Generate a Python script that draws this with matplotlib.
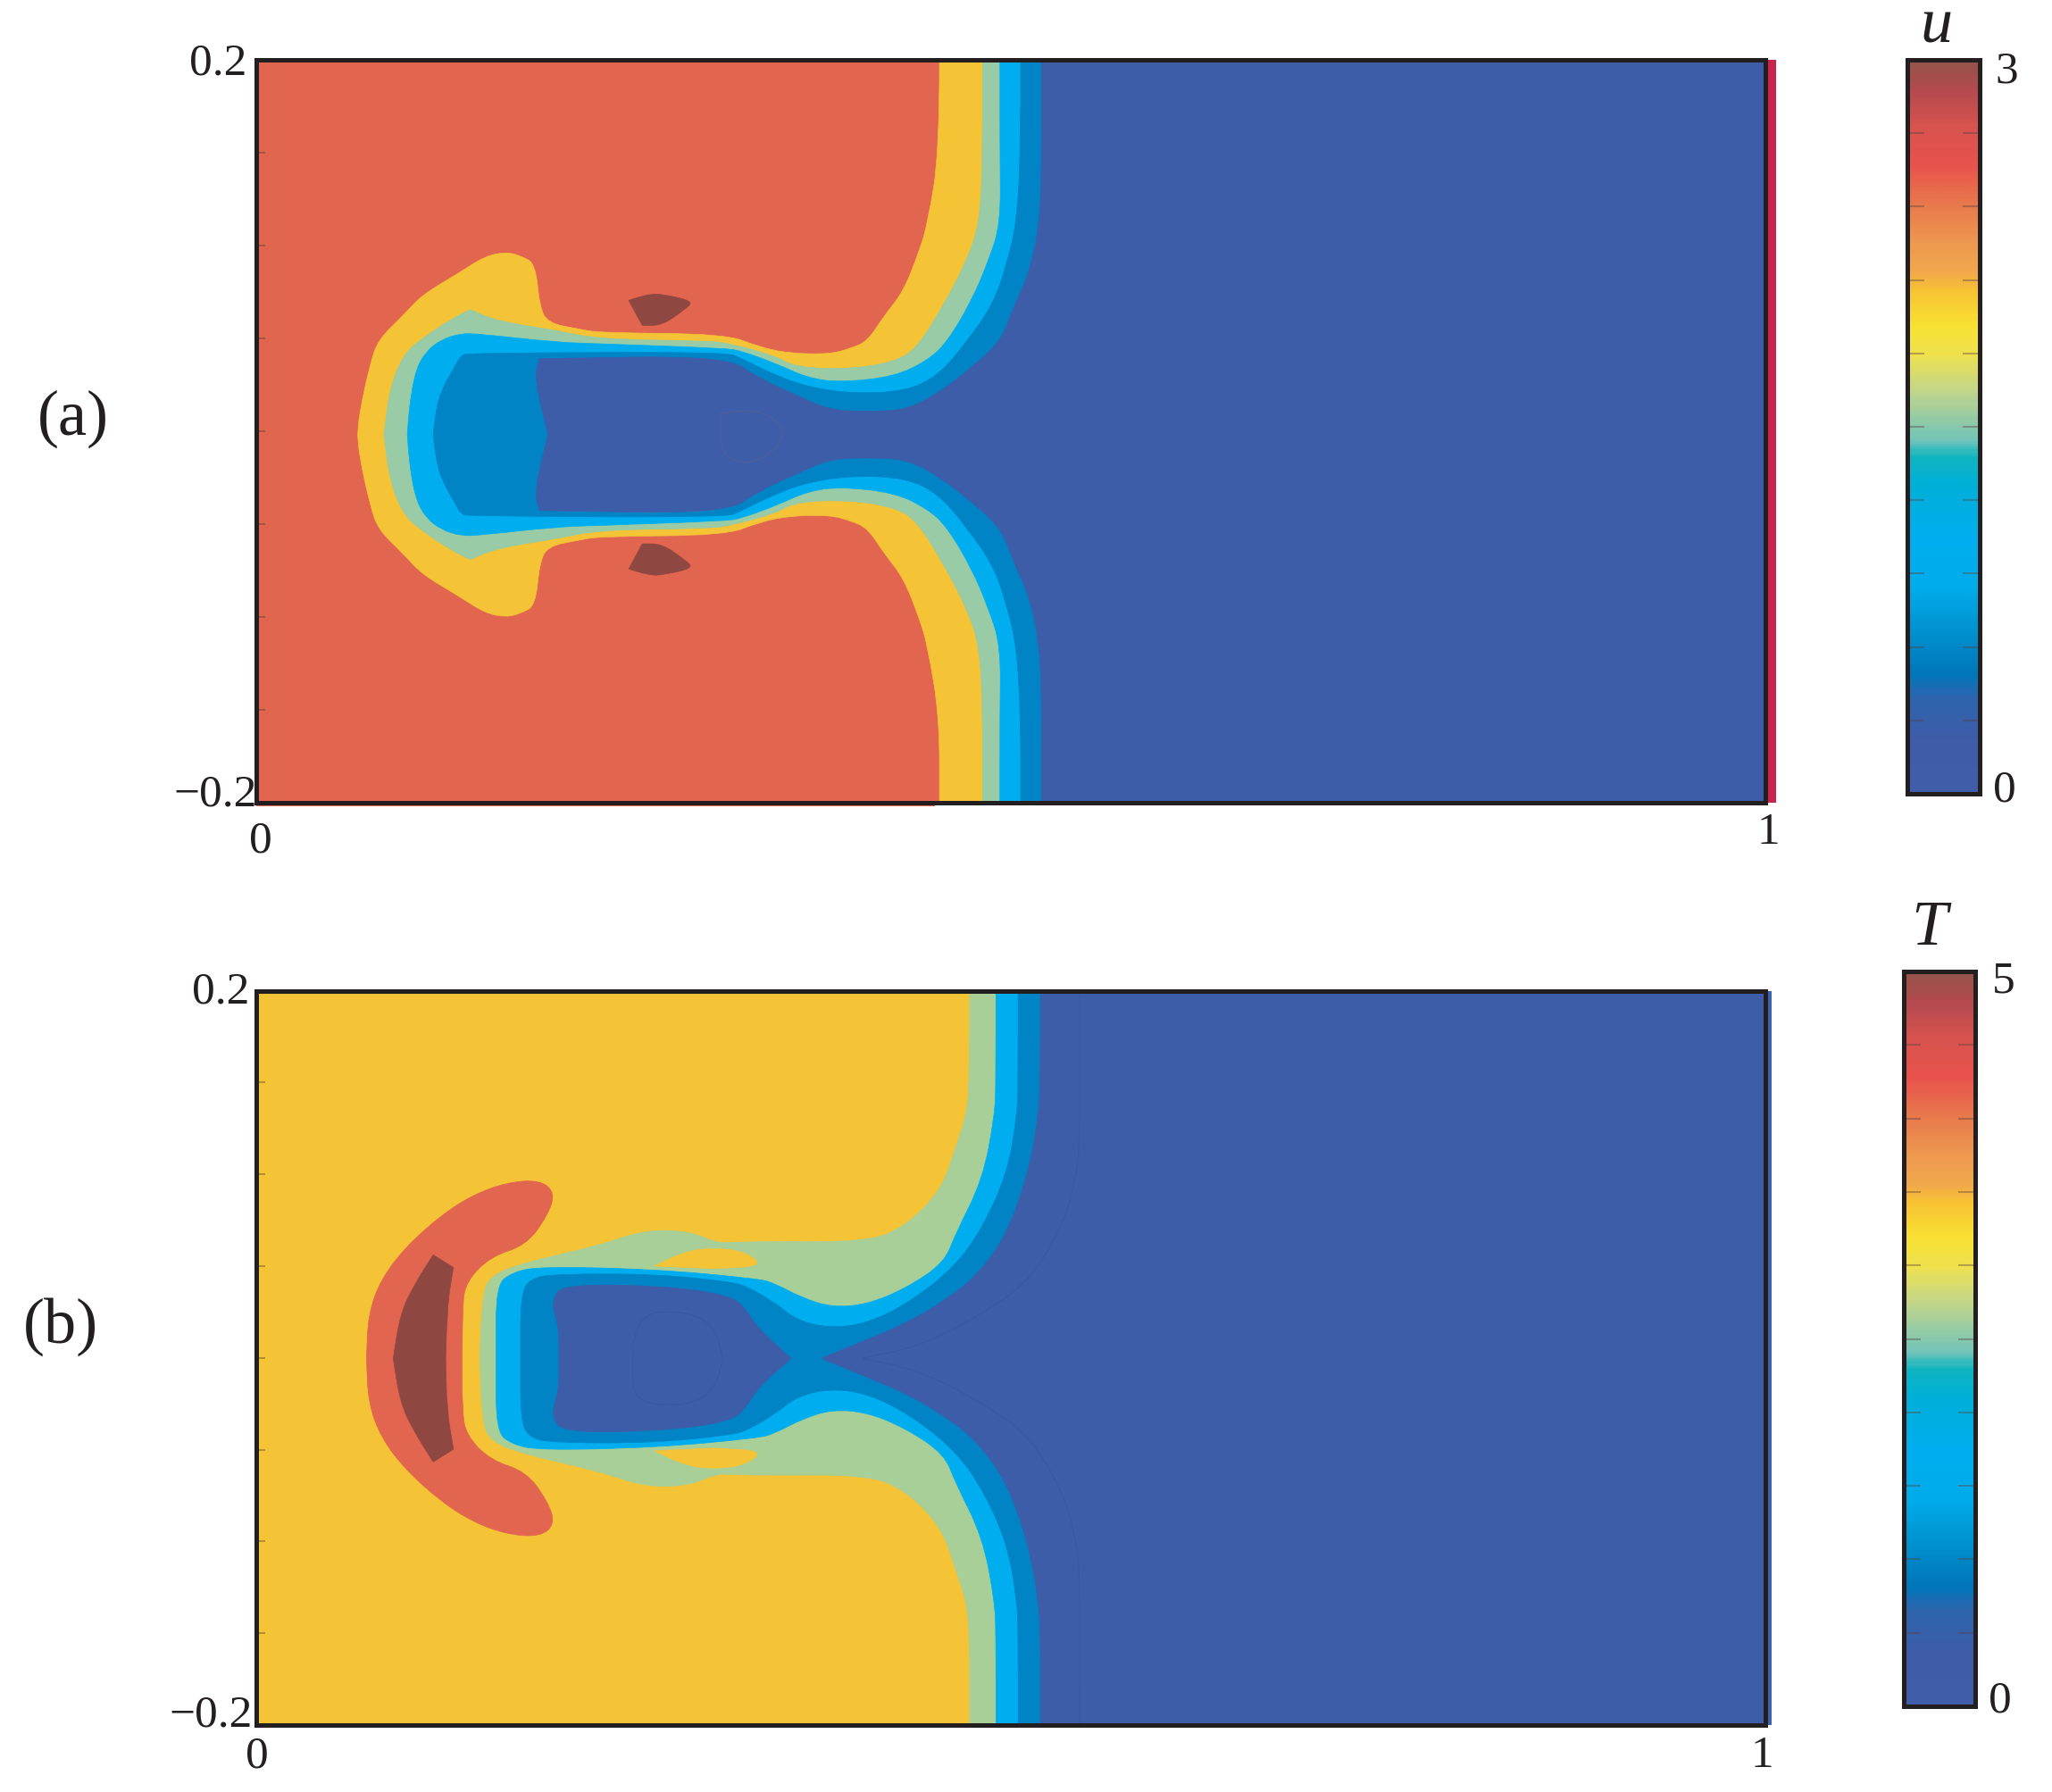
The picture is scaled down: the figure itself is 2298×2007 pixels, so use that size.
import numpy as np
import matplotlib
matplotlib.use('Agg')
import matplotlib.pyplot as plt
from matplotlib.colors import LinearSegmentedColormap
from matplotlib.patches import PathPatch
from matplotlib.path import Path

plt.rcParams['font.family'] = ['Liberation Serif', 'DejaVu Serif']

W, H = 2298, 2007

# colours of the contour bands
c_brown = '#8f4841'
c_red = '#e2654f'
c_yellow = '#f4c336'
c_green_a = '#98cba6'
c_green_b = '#a9cf98'
c_cyan = '#00aeef'
c_mid = '#0084c6'
c_dark = '#3e5da8'
c_ink = '#231f20'

# (a) upper half of each contour, top edge -> centre line
# a point written twice stays a sharp corner
a_centre = -0.0018
a_yellow = [(.4529, .2), (.4529, .15), (.445, .112), (.4398, .0976), (.4289, .0751), (.4163, .0623),
            (.4054, .0487), (.3945, .0447), (.38, .0415), (.3529, .042), (.333, .0455), (.3112, .0524),
            (.2279, .053), (.2134, .0551), (.1935, .0583), (.188, .0671), (.1852, .0904), (.1754, .0944),
            (.1664, .0965), (.1519, .0944), (.1338, .0848), (.1102, .0735), (.0976, .0623), (.0813, .0495),
            (.0758, .0367), (.0685, .0094), (.0675, -.0018)]
a_green = [(.4816, .2), (.4816, .15), (.4796, .112), (.4706, .0912), (.4561, .0687), (.438, .0447),
           (.4235, .0375), (.3945, .0335), (.3583, .0343), (.3438, .0407), (.3148, .0471), (.3004, .0487),
           (.2279, .0495), (.1989, .0543), (.1736, .0575), (.1555, .0607), (.1421, .0655), (.1421, .0655),
           (.1301, .0607), (.112, .0511), (.0976, .0415), (.0885, .0223), (.0849, -.0018)]
a_cyan = [(.4929, .2), (.4929, .15), (.4935, .112), (.4851, .0912), (.4742, .0703), (.4579, .0479),
          (.4452, .0383), (.4235, .0295), (.3873, .0263), (.3656, .0287), (.3438, .0367), (.3221, .0431),
          (.3112, .0447), (.2279, .0471), (.1989, .0479), (.1482, .0524), (.1356, .0527), (.1225, .0492),
          (.1130, .0431), (.1066, .0343), (.103, .0207), (.1012, .0079), (.1004, -.0018)]
a_mid = [(.5067, .2), (.5067, .15), (.5039, .112), (.4978, .0912), (.4887, .0687), (.4706, .0479),
         (.4525, .0303), (.4307, .0215), (.3945, .0203), (.3656, .0239), (.3438, .0303), (.3221, .0391),
         (.3112, .0428), (.141, .0421), (.1356, .0407), (.132, .0351), (.1229, .0223), (.1193, .011),
         (.1175, -.0018)]
a_dark = [(.5206, .2), (.5206, .15), (.5195, .112), (.5122, .0848), (.5013, .0655), (.4941, .0495),
          (.4778, .0367), (.4525, .0207), (.4307, .0114), (.4054, .0107), (.38, .0114), (.3583, .0194),
          (.333, .0287), (.3112, .0407), (.188, .0391), (.188, .0391), (.1845, .0287), (.1935, -.0018)]
a_spot = [(.247, .0705), (.2605, .0742), (.2714, .0735), (.29, .07), (.2841, .0655), (.269, .057),
          (.256, .057)]
a_ring = [(.3076, .0094), (.3311, .0131), (.3492, .003), (.3492, -.005), (.3366, -.0146), (.3221, -.0178),
          (.3076, -.0114), (.3076, .0094)]

# (b) same idea
b_centre = -0.0003
b_green = [(.4729, .2), (.4729, .15), (.4706, .1317), (.4634, .1143), (.4543, .0917), (.4307, .0718),
           (.4054, .0631), (.333, .0634), (.3112, .0627), (.304, .0631), (.2859, .0692), (.2569, .0695),
           (.2279, .0613), (.1772, .0518), (.1555, .0448), (.1501, .0344), (.1483, -.0003)]
b_cyan = [(.4903, .2), (.4903, .15), (.4894, .1317), (.4814, .0969), (.4634, .0674), (.4561, .0518),
          (.4307, .0379), (.4054, .0292), (.3819, .0275), (.3619, .0327), (.3438, .0405), (.333, .0431),
          (.2641, .0483), (.188, .0497), (.17, .0466), (.1591, .0396), (.1591, -.0003)]
b_mid = [(.505, .2), (.505, .15), (.5043, .1317), (.4977, .1004), (.4814, .0709), (.4634, .05),
         (.4344, .0309), (.4054, .0188), (.38, .0162), (.3583, .0205), (.3438, .0301), (.3257, .0388),
         (.3149, .0414), (.2641, .0457), (.1989, .0457), (.1808, .0431), (.1754, .033), (.1754, -.0003)]
b_dark = [(.5198, .2), (.5198, .15), (.5184, .1317), (.5122, .1021), (.4977, .0674), (.4778, .0448),
          (.4561, .031), (.4307, .0188), (.4054, .0101), (.3746, -.0003)]
b_core = [(.3547, -.0003), (.3329, .0153), (.3239, .0275), (.3149, .0335), (.2787, .0387), (.2044, .0405),
          (.1953, .031), (.2008, .017), (.2008, -.0003)]
b_crescent = [(.1367, -.0003), (.1367, .0275), (.1392, .0414), (.1555, .0552), (.1791, .0613), (.1935, .0778),
              (.1982, .09), (.1881, .0969), (.1664, .0955), (.1446, .0891), (.1229, .0778), (.0994, .0605),
              (.0831, .0431), (.0745, .024), (.0733, -.0003)]
b_hot = [(.1258, -.0003), (.1265, .0275), (.1309, .0492), (.1309, .0492), (.1175, .0561), (.1175, .0561),
         (.1048, .0396), (.0957, .024), (.091, -.0003)]
b_island = [(.2641, .05), (.2823, .0579), (.304, .06), (.3239, .0579), (.3366, .05), (.304, .0486)]
b_faint = [(.5458, .2), (.5458, .15), (.5457, .1143), (.5428, .0969), (.5356, .0744), (.5139, .0431),
           (.485, .0257), (.4415, .0066), (.4016, -.0003)]
b_loop = [(.2497, -.0003), (.2497, .024), (.2859, .0257), (.304, .017), (.3094, -.0003)]

# colour bar, fraction from the top and colour
bar_pos = [0, .04, .09, .14, .19, .25, .29, .31, .36, .40, .45, .49, .52, .54, .58, .65, .72, .78, .84, .87, .93, 1]
bar_col = ['#96534b', '#b54a4e', '#d9544f', '#e8524d', '#e8764c', '#ee9a50', '#f2a94c', '#f8c034', '#f9e132',
           '#f0e24e', '#c3d68a', '#94cba6', '#6fc4bb', '#10b5c0', '#00b0d8', '#00aeef', '#00acea', '#0092d0',
           '#0076ba', '#2c66ae', '#3f5ca8', '#405ea9']
u_ticks = [.3, .6, .9, 1.2, 1.5, 1.8, 2.1, 2.4, 2.7]
T_ticks = [.5, 1, 1.5, 2, 2.5, 3, 3.5, 4, 4.5]
side_ticks = [-.15, -.1, -.05, 0, .05, .1, .15]


def box(x0, y0, x1, y1):
    # pixel box of the reference -> figure fractions
    return [x0 / W, 1 - y1 / H, (x1 - x0) / W, (y1 - y0) / H]


def both_sides(half, centre):
    p = np.array(half)
    low = np.column_stack([p[::-1, 0], 2 * centre - p[::-1, 1]])
    return np.vstack([p, low])


def rounded(p):
    # the read points become control points of a quadratic curve, the facets go away
    verts = [p[0]]
    codes = [Path.MOVETO]
    for i in range(1, len(p) - 1):
        verts += [p[i], (p[i] + p[i + 1]) / 2]
        codes += [Path.CURVE3, Path.CURVE3]
    verts.append(p[-1])
    codes.append(Path.LINETO)
    return verts, codes


def band(ax, half, centre, color):
    # contour closed round the right hand side of the panel
    verts, codes = rounded(both_sides(half, centre))
    verts += [(1, -.3), (1, .3), (0, 0)]
    codes += [Path.LINETO, Path.LINETO, Path.CLOSEPOLY]
    ax.add_patch(PathPatch(Path(verts, codes), fc=color, ec=color, lw=.5))


def shape(ax, p, color):
    verts, codes = rounded(np.array(p))
    verts.append((0, 0))
    codes.append(Path.CLOSEPOLY)
    ax.add_patch(PathPatch(Path(verts, codes), fc=color, ec=color, lw=.5))


def blob(ax, half, centre, color):
    shape(ax, both_sides(half, centre), color)


def twin(ax, loop, centre, color):
    p = np.array(loop)
    shape(ax, p, color)
    shape(ax, np.column_stack([p[:, 0], 2 * centre - p[:, 1]]), color)


def thin(ax, p, color):
    verts, codes = rounded(np.array(p))
    ax.add_patch(PathPatch(Path(verts, codes), fc='none', ec=color, lw=.9))


def frame(ax, strip, strip_end):
    ax.set_xlim(0, 1)
    ax.set_ylim(-.2, .2)
    ax.set_xticks([])
    ax.set_yticks(side_ticks)
    ax.set_yticklabels([])
    ax.tick_params(axis='y', direction='in', length=7, width=1.2, color=(.3, .2, .2, .45))
    ax.axvspan(1, strip_end, color=strip, clip_on=False, lw=0, zorder=1)
    for s in ax.spines.values():
        s.set_linewidth(3.6)
        s.set_color(c_ink)


def colorbar(pos, vmax, ticks, name, name_xy, top_xy, low_xy):
    cax = fig.add_axes(box(*pos))
    cmap = LinearSegmentedColormap.from_list('bar', list(zip(bar_pos, bar_col)))
    cax.imshow(np.linspace(0, 1, 300)[:, None], aspect='auto', cmap=cmap, extent=[0, 1, 0, vmax])
    cax.set_xticks([])
    cax.set_yticks(ticks)
    cax.set_yticklabels([])
    cax.tick_params(axis='y', direction='in', left=True, right=True, length=14, width=1.5, color=(.35, .25, .25, .4))
    for s in cax.spines.values():
        s.set_linewidth(3.6)
        s.set_color(c_ink)
    fig.text(name_xy[0] / W, 1 - name_xy[1] / H, name, style='italic', fontsize=52, color=c_ink, ha='center', va='center')
    fig.text(top_xy[0] / W, 1 - top_xy[1] / H, str(vmax), fontsize=37, color=c_ink, ha='center', va='center')
    fig.text(low_xy[0] / W, 1 - low_xy[1] / H, '0', fontsize=37, color=c_ink, ha='center', va='center')


fig = plt.figure(figsize=(W / 100, H / 100), dpi=100, facecolor='white')

# panel (a), u
ax1 = fig.add_axes(box(286.5, 67, 1977, 899))
ax1.set_facecolor(c_red)
band(ax1, a_yellow, a_centre, c_yellow)
band(ax1, a_green, a_centre, c_green_a)
band(ax1, a_cyan, a_centre, c_cyan)
band(ax1, a_mid, a_centre, c_mid)
band(ax1, a_dark, a_centre, c_dark)
twin(ax1, a_spot, a_centre, c_brown)
thin(ax1, a_ring, '#4f5f96')
frame(ax1, '#c8234a', 1.007)
ax1.axhspan(-.2018, -.2, xmin=0, xmax=.45, color=c_red, clip_on=False, lw=0, zorder=1)

# panel (b), T
ax2 = fig.add_axes(box(286.5, 1109.5, 1977, 1932))
ax2.set_facecolor(c_yellow)
band(ax2, b_green, b_centre, c_green_b)
band(ax2, b_cyan, b_centre, c_cyan)
band(ax2, b_mid, b_centre, c_mid)
band(ax2, b_dark, b_centre, c_dark)
blob(ax2, b_core, b_centre, c_dark)
blob(ax2, b_crescent, b_centre, c_red)
blob(ax2, b_hot, b_centre, c_brown)
twin(ax2, b_island, b_centre, c_yellow)
thin(ax2, both_sides(b_faint, b_centre), '#3a58a0')
thin(ax2, both_sides(b_loop, b_centre), '#3a58a0')
frame(ax2, '#3a62ad', 1.004)

# tick labels
ax1.text(-.006, .198, '0.2', fontsize=37, color=c_ink, ha='right', va='center')
ax1.text(.001, -.196, '\u22120.2', fontsize=37, color=c_ink, ha='right', va='center')
ax1.text(.003, -.221, '0', fontsize=37, color=c_ink, ha='center', va='center')
ax1.text(1.002, -.216, '1', fontsize=37, color=c_ink, ha='center', va='center')
ax2.text(-.004, .199, '0.2', fontsize=37, color=c_ink, ha='right', va='center')
ax2.text(-.002, -.195, '\u22120.2', fontsize=37, color=c_ink, ha='right', va='center')
ax2.text(.001, -.217, '0', fontsize=37, color=c_ink, ha='center', va='center')
ax2.text(.998, -.217, '1', fontsize=37, color=c_ink, ha='center', va='center')

fig.text(82 / W, 1 - 469 / H, '(a)', fontsize=52, color=c_ink, ha='center', va='center')
fig.text(68 / W, 1 - 1486 / H, '(b)', fontsize=52, color=c_ink, ha='center', va='center')

colorbar((2136, 67, 2217, 889), 3, u_ticks, 'u', (2168, 30), (2247, 80), (2245, 885))
colorbar((2132, 1088, 2212, 1911), 5, T_ticks, 'T', (2160, 1040), (2244, 1099), (2240, 1905))

fig.savefig('out.png', dpi=100)
